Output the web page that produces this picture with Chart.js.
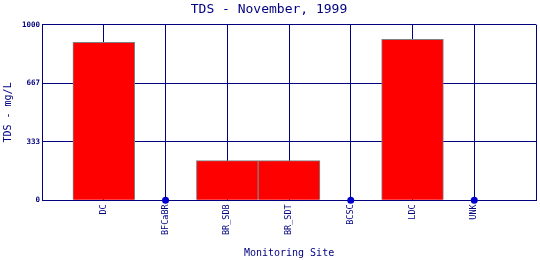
<!DOCTYPE html>
<html>
<head>
<meta charset="utf-8">
<script src="https://cdn.jsdelivr.net/npm/chart.js@4/dist/chart.umd.min.js"></script>
<style>
  body { margin: 0; background: #fff; }
  #wrap { width: 540px; height: 260px; }
</style>
</head>
<body>
<div id="wrap"><canvas id="tds-chart"></canvas></div>
<script>
// data
const sites = ['DC', 'BFCaBR', 'BR_SDB', 'BR_SDT', 'BCSC', 'LDC', 'UNK'];
const tdsValues = [899, 0, 226, 226, 0, 916, 0];
const yTicks = [0, 333, 667, 1000];

const navy = '#000080';
const mono = 'DejaVu Sans Mono';

// one blank slot on each side, like the original axis
const labels = [''].concat(sites, ['']);
const barData = [null].concat(tdsValues, [null]);
const zeroDots = [null].concat(tdsValues.map(v => (v === 0 ? 0 : null)), [null]);

const chart = new Chart(document.getElementById('tds-chart').getContext('2d'), {
  type: 'bar',
  data: {
    labels: labels,
    datasets: [
      {
        type: 'line',
        data: zeroDots,
        showLine: false,
        clip: false,
        pointRadius: 3.5,
        pointBackgroundColor: '#0000cc',
        pointBorderColor: '#0000cc',
        pointBorderWidth: 0,
        order: 0,
      },
      {
        data: barData,
        backgroundColor: '#ff0000',
        borderColor: '#808080',
        borderWidth: 1,
        barPercentage: 1,
        categoryPercentage: 1,
        order: 1,
      },
    ],
  },
  options: {
    responsive: true,
    maintainAspectRatio: false,
    animation: false,
    layout: { padding: { left: 2, right: 4, top: 0, bottom: 1 } },
    plugins: {
      legend: { display: false },
      tooltip: { enabled: false },
      title: {
        display: true,
        text: 'TDS - November, 1999',
        color: navy,
        font: { family: mono, size: 13, weight: 'normal' },
        padding: { top: 2, bottom: 7 },
      },
    },
    scales: {
      x: {
        offset: false,
        afterFit: scale => {
          scale.paddingRight = 0;
        },
        grid: { color: navy, lineWidth: 1, drawTicks: false, offset: false },
        border: { color: navy, width: 1 },
        ticks: {
          color: navy,
          font: { family: mono, size: 8.5 },
          minRotation: 90,
          maxRotation: 90,
          padding: 4,
          autoSkip: false,
        },
        title: {
          display: true,
          text: 'Monitoring Site',
          color: navy,
          font: { family: mono, size: 10 },
          padding: { top: 8, bottom: 0 },
        },
      },
      y: {
        min: 0,
        max: 1000,
        afterBuildTicks: scale => {
          scale.ticks = yTicks.map(v => ({ value: v }));
        },
        grid: { color: navy, lineWidth: 1, drawTicks: false },
        border: { color: navy, width: 1 },
        ticks: {
          color: navy,
          font: { family: mono, size: 7.5, weight: 'bold' },
          padding: 2,
          callback: v => String(v),
        },
        title: {
          display: true,
          text: 'TDS - mg/L',
          color: navy,
          font: { family: mono, size: 10 },
          padding: { top: 0, bottom: 6 },
        },
      },
    },
  },
});
</script>
</body>
</html>
